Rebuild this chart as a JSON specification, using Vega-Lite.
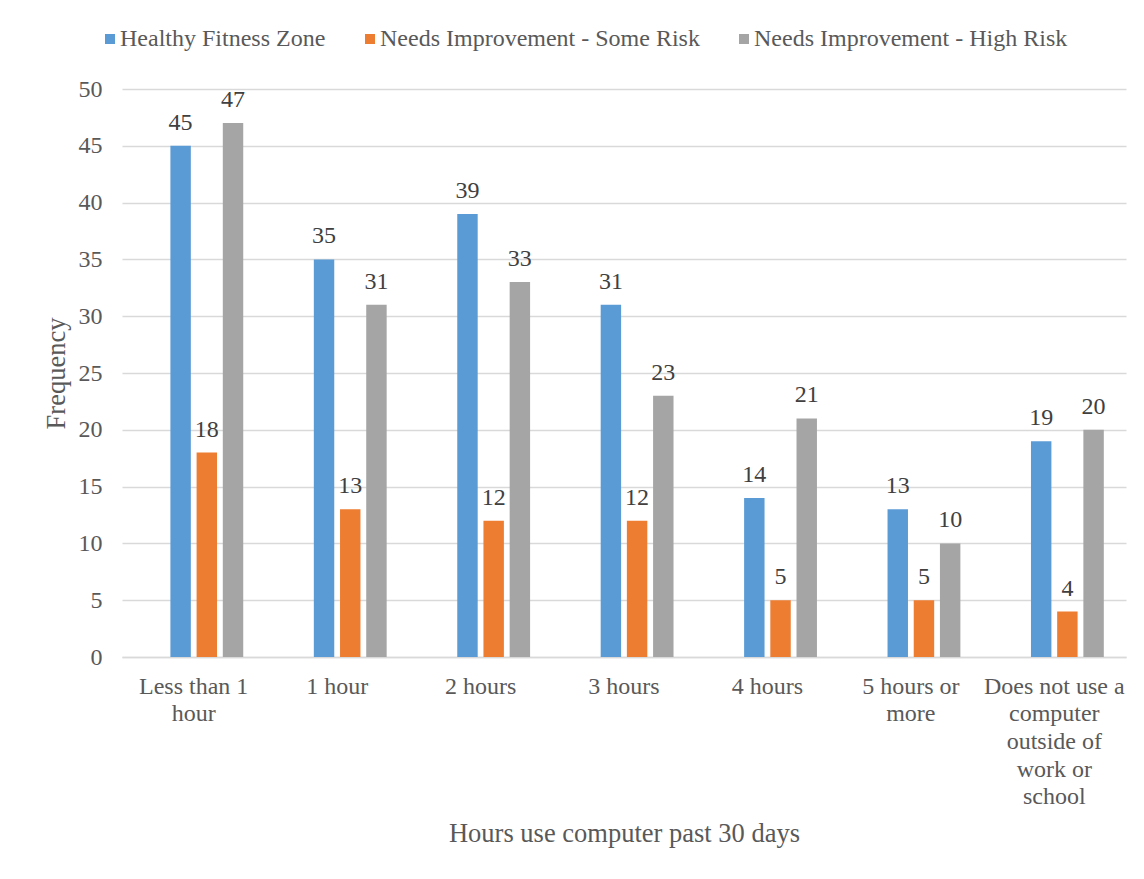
{
  "$schema": "https://vega.github.io/schema/vega-lite/v6.json",
  "width": 1004,
  "height": 568,
  "autosize": {"type": "none"},
  "padding": {"left": 122, "top": 89, "right": 18, "bottom": 222},
  "background": "white",
  "config": {
    "view": {"stroke": null},
    "font": "Liberation Serif",
    "text": {"font": "Liberation Serif"},
    "axis": {"labelFont": "Liberation Serif", "titleFont": "Liberation Serif", "labelColor": "#595959", "titleColor": "#595959", "titleFontWeight": "normal"},
    "legend": {"labelFont": "Liberation Serif", "labelColor": "#595959"}
  },
  "data": {
    "values": [
      {"hours": "Less than 1 hour", "series": "Healthy Fitness Zone", "frequency": 45},
      {"hours": "Less than 1 hour", "series": "Needs Improvement - Some Risk", "frequency": 18},
      {"hours": "Less than 1 hour", "series": "Needs Improvement - High Risk", "frequency": 47},
      {"hours": "1 hour", "series": "Healthy Fitness Zone", "frequency": 35},
      {"hours": "1 hour", "series": "Needs Improvement - Some Risk", "frequency": 13},
      {"hours": "1 hour", "series": "Needs Improvement - High Risk", "frequency": 31},
      {"hours": "2 hours", "series": "Healthy Fitness Zone", "frequency": 39},
      {"hours": "2 hours", "series": "Needs Improvement - Some Risk", "frequency": 12},
      {"hours": "2 hours", "series": "Needs Improvement - High Risk", "frequency": 33},
      {"hours": "3 hours", "series": "Healthy Fitness Zone", "frequency": 31},
      {"hours": "3 hours", "series": "Needs Improvement - Some Risk", "frequency": 12},
      {"hours": "3 hours", "series": "Needs Improvement - High Risk", "frequency": 23},
      {"hours": "4 hours", "series": "Healthy Fitness Zone", "frequency": 14},
      {"hours": "4 hours", "series": "Needs Improvement - Some Risk", "frequency": 5},
      {"hours": "4 hours", "series": "Needs Improvement - High Risk", "frequency": 21},
      {"hours": "5 hours or more", "series": "Healthy Fitness Zone", "frequency": 13},
      {"hours": "5 hours or more", "series": "Needs Improvement - Some Risk", "frequency": 5},
      {"hours": "5 hours or more", "series": "Needs Improvement - High Risk", "frequency": 10},
      {"hours": "Does not use a computer outside of work or school", "series": "Healthy Fitness Zone", "frequency": 19},
      {"hours": "Does not use a computer outside of work or school", "series": "Needs Improvement - Some Risk", "frequency": 4},
      {"hours": "Does not use a computer outside of work or school", "series": "Needs Improvement - High Risk", "frequency": 20}
    ]
  },
  "encoding": {
    "x": {
      "field": "hours",
      "type": "nominal",
      "sort": null,
      "scale": {"paddingInner": 0, "paddingOuter": 0},
      "axis": {
        "title": "Hours use computer past 30 days",
        "titleFontSize": 26.5,
        "titlePadding": 12,
        "labelFontSize": 24,
        "labelAngle": 0,
        "labelPadding": 29,
        "labelLineHeight": 27.7,
        "labelBaseline": "middle",
        "labelLimit": 0,
        "ticks": false,
        "domainColor": "#d9d9d9",
        "domainWidth": 1.5,
        "labelExpr": "datum.value == 'Less than 1 hour' ? ['Less than 1', 'hour'] : datum.value == '5 hours or more' ? ['5 hours or', 'more'] : datum.value == 'Does not use a computer outside of work or school' ? ['Does not use a', 'computer', 'outside of', 'work or', 'school'] : datum.value"
      }
    },
    "xOffset": {
      "field": "series",
      "type": "nominal",
      "scale": {
        "domain": ["_", "Healthy Fitness Zone", "Needs Improvement - Some Risk", "Needs Improvement - High Risk"],
        "paddingInner": 0.22,
        "paddingOuter": 0.847
      }
    },
    "y": {
      "field": "frequency",
      "type": "quantitative",
      "scale": {"domain": [0, 50]},
      "axis": {
        "title": "Frequency",
        "titleFontSize": 26.5,
        "titlePadding": 8,
        "labelFontSize": 24,
        "labelPadding": 20,
        "values": [0, 5, 10, 15, 20, 25, 30, 35, 40, 45, 50],
        "ticks": false,
        "domain": false,
        "gridColor": "#d9d9d9",
        "gridWidth": 1.5
      }
    }
  },
  "layer": [
    {
      "mark": {"type": "bar"},
      "encoding": {
        "color": {
          "field": "series",
          "type": "nominal",
          "scale": {
            "domain": ["Healthy Fitness Zone", "Needs Improvement - Some Risk", "Needs Improvement - High Risk"],
            "range": ["#5B9BD5", "#ED7D31", "#A5A5A5"]
          },
          "legend": {
            "title": null,
            "orient": "none",
            "direction": "horizontal",
            "legendX": -24,
            "legendY": -62,
            "symbolType": "square",
            "symbolSize": 100,
            "symbolStrokeWidth": 0,
            "labelFontSize": 24,
            "labelLimit": 0,
            "labelOffset": -2,
            "columnPadding": 32
          }
        }
      }
    },
    {
      "mark": {"type": "text", "baseline": "alphabetic", "dy": -16, "fontSize": 24, "color": "#404040"},
      "encoding": {
        "text": {"field": "frequency", "type": "quantitative"}
      }
    }
  ]
}
